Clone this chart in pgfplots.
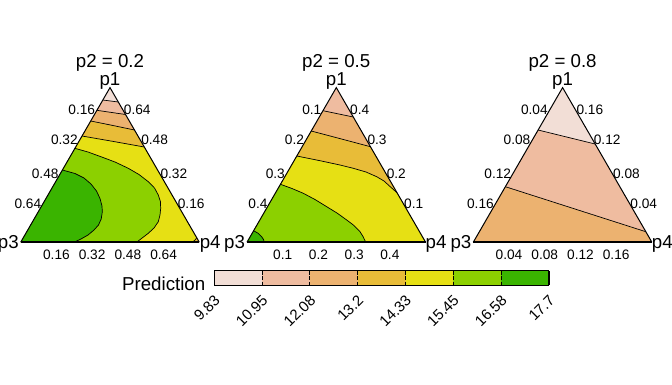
\documentclass[border=0pt]{standalone}
\usepackage{pgfplots}
\pgfplotsset{compat=1.18}
\usepackage{fontspec}
\setmainfont{Liberation Sans}
\definecolor{c1}{HTML}{F2DED6}
\definecolor{c2}{HTML}{EFBCA0}
\definecolor{c3}{HTML}{ECB270}
\definecolor{c4}{HTML}{E8BC38}
\definecolor{c5}{HTML}{E6E014}
\definecolor{c6}{HTML}{8CD000}
\definecolor{c7}{HTML}{3AB400}
\newcommand{\tickf}{\fontsize{13.7}{14}\selectfont}
\newcommand{\keyf}{\fontsize{15}{16}\selectfont}
\newcommand{\labf}{\fontsize{18.7}{20}\selectfont}
\begin{document}
\begin{tikzpicture}
\begin{axis}[hide axis, scale only axis, width=672pt, height=384pt,
  xmin=0, xmax=672, ymin=0, ymax=384, y dir=reverse, clip=false]
\coordinate (bbl) at (axis cs:0,384);
\coordinate (btr) at (axis cs:672,0);
% ---------------- panel 1 (p2 = 0.2) ----------------
\addplot[fill=c1, draw=none] coordinates {(20.7,242.2) (110,87.6) (199.3,242.2)};
\addplot[fill=c2, draw=none] coordinates {(102.8,100) (118.3,102) (199.3,242.2) (20.7,242.2)};
\addplot[fill=c3, draw=none] coordinates {(96.9,110.3) (125.5,114.5) (199.3,242.2) (20.7,242.2)};
\addplot[fill=c4, draw=none] coordinates {(90.7,121) (112,125.3) (134.5,130) (199.3,242.2) (20.7,242.2)};
\addplot[fill=c5, draw=none] coordinates {(82.0,136) (112,141.2) (144.3,147) (199.3,242.2) (20.7,242.2)};
\addplot[fill=c6, draw=none] coordinates {(74.9,148.3) (88,152) (101.7,157) (115,162) (128.3,168.3) (139,174.5) (148.3,181.7) (154.5,188) (158.3,195) (160.4,201.5) (160.7,208.3) (160,215) (158.3,221.7) (154,228) (148.3,233.3) (142.5,237.7) (136.7,242.2) (20.7,242.2)};
\addplot[fill=c7, draw=none] coordinates {(62.4,170) (75,173.5) (84,178) (91,184) (96.5,191) (100,198.5) (102,206) (102.3,212) (101.2,219) (98.5,225) (94,230) (88,235) (81,239) (74,242.2) (20.7,242.2)};
\addplot[fill=c4, draw=none] coordinates {(192,242.2) (194.5,240.6) (196.8,237.8) (199.3,242.2)};
\addplot[black, line width=0.7pt] coordinates {(102.8,100) (118.3,102)};
\addplot[black, line width=0.7pt] coordinates {(96.9,110.3) (125.5,114.5)};
\addplot[black, line width=0.7pt] coordinates {(90.7,121) (112,125.3) (134.5,130)};
\addplot[black, line width=0.7pt] coordinates {(82.0,136) (112,141.2) (144.3,147)};
\addplot[black, line width=0.7pt] coordinates {(74.9,148.3) (88,152) (101.7,157) (115,162) (128.3,168.3) (139,174.5) (148.3,181.7) (154.5,188) (158.3,195) (160.4,201.5) (160.7,208.3) (160,215) (158.3,221.7) (154,228) (148.3,233.3) (142.5,237.7) (136.7,242.2)};
\addplot[black, line width=0.7pt] coordinates {(62.4,170) (75,173.5) (84,178) (91,184) (96.5,191) (100,198.5) (102,206) (102.3,212) (101.2,219) (98.5,225) (94,230) (88,235) (81,239) (74,242.2)};
\addplot[black, line width=0.7pt] coordinates {(192,242.2) (194.5,240.6) (196.8,237.8)};
\addplot[black, line width=1pt] coordinates {(20.7,242.2) (110,87.6) (199.3,242.2)};
\addplot[black, line width=2pt] coordinates {(20.7,242.2) (199.3,242.2)};
% ---------------- panel 2 (p2 = 0.5) ----------------
\addplot[fill=c2, draw=none] coordinates {(247,242.2) (336.3,87.6) (425.6,242.2)};
\addplot[fill=c3, draw=none] coordinates {(323,110.7) (353.3,117) (425.6,242.2) (247,242.2)};
\addplot[fill=c4, draw=none] coordinates {(311.2,131) (340,138.6) (370.4,146.7) (425.6,242.2) (247,242.2)};
\addplot[fill=c5, draw=none] coordinates {(296.8,156) (320,160.7) (340,165) (353.3,168.3) (366,172) (376.7,176.7) (384,181) (390,186.5) (397,192.7) (425.6,242.2) (247,242.2)};
\addplot[fill=c6, draw=none] coordinates {(280.5,184.3) (292,188.5) (303.3,193.3) (315,199.5) (326.7,206.7) (337,213) (346.7,220) (354,225.5) (360,231.7) (363,236.5) (365.7,242.2) (247,242.2)};
\addplot[fill=c7, draw=none] coordinates {(253.6,230.7) (258,233.2) (261.5,236.5) (263.5,239.5) (264.3,242.2) (247,242.2)};
\addplot[black, line width=0.7pt] coordinates {(323,110.7) (353.3,117)};
\addplot[black, line width=0.7pt] coordinates {(311.2,131) (340,138.6) (370.4,146.7)};
\addplot[black, line width=0.7pt] coordinates {(296.8,156) (320,160.7) (340,165) (353.3,168.3) (366,172) (376.7,176.7) (384,181) (390,186.5) (397,192.7)};
\addplot[black, line width=0.7pt] coordinates {(280.5,184.3) (292,188.5) (303.3,193.3) (315,199.5) (326.7,206.7) (337,213) (346.7,220) (354,225.5) (360,231.7) (363,236.5) (365.7,242.2)};
\addplot[black, line width=0.7pt] coordinates {(253.6,230.7) (258,233.2) (261.5,236.5) (263.5,239.5) (264.3,242.2)};
\addplot[black, line width=1pt] coordinates {(247,242.2) (336.3,87.6) (425.6,242.2)};
\addplot[black, line width=2pt] coordinates {(247,242.2) (425.6,242.2)};
% ---------------- panel 3 (p2 = 0.8) ----------------
\addplot[fill=c1, draw=none] coordinates {(473.3,242.2) (562.6,87.6) (651.9,242.2)};
\addplot[fill=c2, draw=none] coordinates {(538.1,130) (595.1,144) (651.9,242.2) (473.3,242.2)};
\addplot[fill=c3, draw=none] coordinates {(505.4,186.7) (645.8,231.7) (651.9,242.2) (473.3,242.2)};
\addplot[black, line width=0.7pt] coordinates {(538.1,130) (595.1,144)};
\addplot[black, line width=0.7pt] coordinates {(505.4,186.7) (645.8,231.7)};
\addplot[black, line width=1pt] coordinates {(473.3,242.2) (562.6,87.6) (651.9,242.2)};
\addplot[black, line width=2pt] coordinates {(473.3,242.2) (651.9,242.2)};
% ---------------- colour key ----------------
\addplot[fill=c1, draw=none] coordinates {(214.3,270.7) (262.11,270.7) (262.11,285) (214.3,285)};
\addplot[fill=c2, draw=none] coordinates {(262.11,270.7) (309.92,270.7) (309.92,285) (262.11,285)};
\addplot[fill=c3, draw=none] coordinates {(309.92,270.7) (357.73,270.7) (357.73,285) (309.92,285)};
\addplot[fill=c4, draw=none] coordinates {(357.73,270.7) (405.54,270.7) (405.54,285) (357.73,285)};
\addplot[fill=c5, draw=none] coordinates {(405.54,270.7) (453.35,270.7) (453.35,285) (405.54,285)};
\addplot[fill=c6, draw=none] coordinates {(453.35,270.7) (501.16,270.7) (501.16,285) (453.35,285)};
\addplot[fill=c7, draw=none] coordinates {(501.16,270.7) (548.97,270.7) (548.97,285) (501.16,285)};
\addplot[black, line width=0.9pt, dash pattern=on 4pt off 1.5pt] coordinates {(262.11,270.7) (262.11,285)};
\addplot[black, line width=0.9pt, dash pattern=on 4pt off 1.5pt] coordinates {(309.92,270.7) (309.92,285)};
\addplot[black, line width=0.9pt, dash pattern=on 4pt off 1.5pt] coordinates {(357.73,270.7) (357.73,285)};
\addplot[black, line width=0.9pt, dash pattern=on 4pt off 1.5pt] coordinates {(405.54,270.7) (405.54,285)};
\addplot[black, line width=0.9pt, dash pattern=on 4pt off 1.5pt] coordinates {(453.35,270.7) (453.35,285)};
\addplot[black, line width=0.9pt, dash pattern=on 4pt off 1.5pt] coordinates {(501.16,270.7) (501.16,285)};
\addplot[black, line width=1pt] coordinates {(214.3,270.7) (548.97,270.7) (548.97,285) (214.3,285) (214.3,270.7)};
\addplot[black, line width=1.6pt] coordinates {(548.97,270.7) (548.97,285)};
% ---------------- texts ----------------
\begin{scope}[every node/.style={inner sep=0pt, font=\labf}]
\node[anchor=base] at (110,67.7) {p2 = 0.2};
\node[anchor=base] at (336.3,67.7) {p2 = 0.5};
\node[anchor=base] at (562.6,67.7) {p2 = 0.8};
\node[anchor=base] at (110,85.8) {p1};
\node[anchor=base] at (336.3,85.8) {p1};
\node[anchor=base] at (562.6,85.8) {p1};
\node[anchor=base east] at (18.9,248) {p3};
\node[anchor=base east] at (245.2,248) {p3};
\node[anchor=base east] at (471.5,248) {p3};
\node[anchor=base west] at (199.6,248) {p4};
\node[anchor=base west] at (425.4,248) {p4};
\node[anchor=base west] at (651.7,248) {p4};
\node[anchor=base east] at (205.5,290) {Prediction};
\end{scope}
\begin{scope}[every node/.style={inner sep=0pt, font=\tickf}]
% panel 1
\node[anchor=east] at (95.26,110) {0.16};
\node[anchor=east] at (77.93,140) {0.32};
\node[anchor=east] at (58.7,173.3) {0.48};
\node[anchor=east] at (41.37,203.3) {0.64};
\node[anchor=west] at (123.74,110) {0.64};
\node[anchor=west] at (141.07,140) {0.48};
\node[anchor=west] at (160.3,173.3) {0.32};
\node[anchor=west] at (177.63,203.3) {0.16};
\node at (56.42,254.7) {0.16};
\node at (92.14,254.7) {0.32};
\node at (127.86,254.7) {0.48};
\node at (163.58,254.7) {0.64};
% panel 2
\node[anchor=east] at (321.56,110) {0.1};
\node[anchor=east] at (304.23,140) {0.2};
\node[anchor=east] at (285.0,173.3) {0.3};
\node[anchor=east] at (267.67,203.3) {0.4};
\node[anchor=west] at (350.04,110) {0.4};
\node[anchor=west] at (367.37,140) {0.3};
\node[anchor=west] at (386.6,173.3) {0.2};
\node[anchor=west] at (403.93,203.3) {0.1};
\node at (282.72,254.7) {0.1};
\node at (318.44,254.7) {0.2};
\node at (354.16,254.7) {0.3};
\node at (389.88,254.7) {0.4};
% panel 3
\node[anchor=east] at (547.86,110) {0.04};
\node[anchor=east] at (530.53,140) {0.08};
\node[anchor=east] at (511.3,173.3) {0.12};
\node[anchor=east] at (493.97,203.3) {0.16};
\node[anchor=west] at (576.34,110) {0.16};
\node[anchor=west] at (593.67,140) {0.12};
\node[anchor=west] at (612.9,173.3) {0.08};
\node[anchor=west] at (630.23,203.3) {0.04};
\node at (509.02,254.7) {0.04};
\node at (544.74,254.7) {0.08};
\node at (580.46,254.7) {0.12};
\node at (616.18,254.7) {0.16};
\end{scope}
\begin{scope}[every node/.style={inner sep=0pt, font=\keyf, anchor=east, rotate=45}]
\node at (217.3,297.5) {9.83};
\node at (265.11,297.5) {10.95};
\node at (312.92,297.5) {12.08};
\node at (360.73,297.5) {13.2};
\node at (408.54,297.5) {14.33};
\node at (456.35,297.5) {15.45};
\node at (504.16,297.5) {16.58};
\node at (551.97,297.5) {17.7};
\end{scope}
\end{axis}
\pgfresetboundingbox
\path (bbl) rectangle (btr);
\end{tikzpicture}
\end{document}
